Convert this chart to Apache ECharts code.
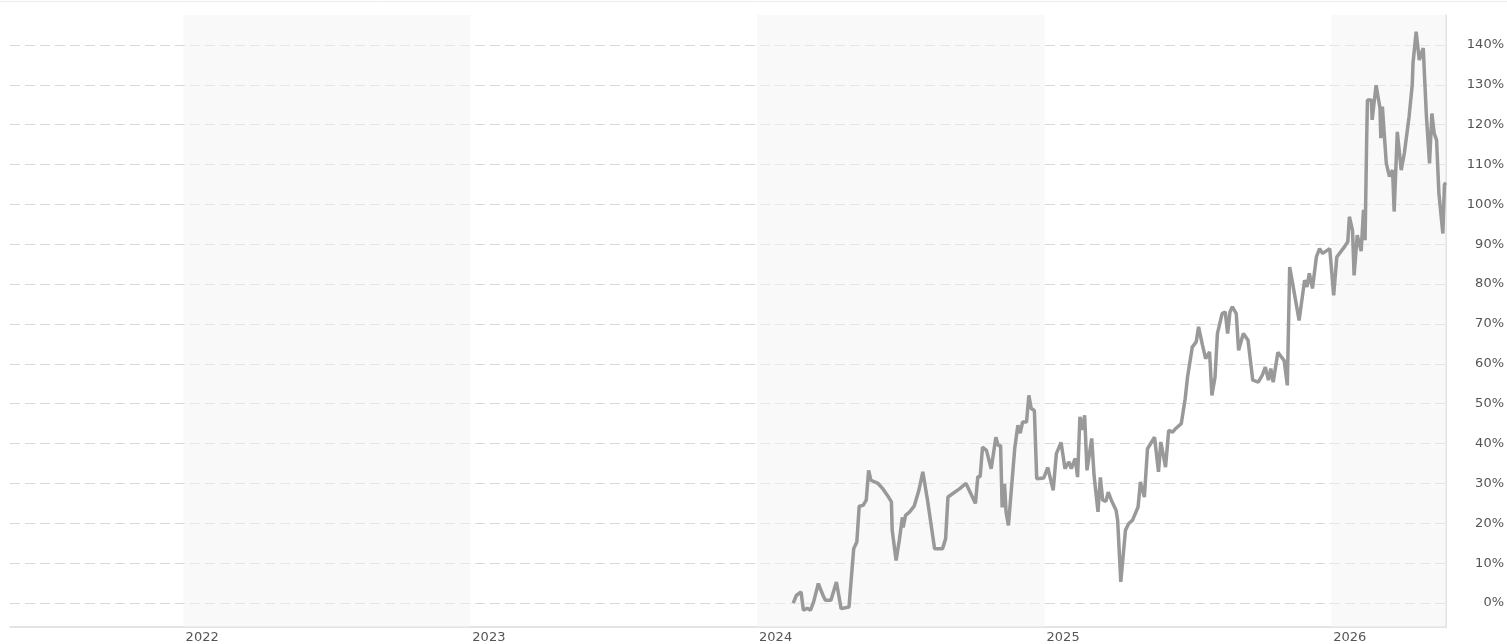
<!DOCTYPE html>
<html>
<head>
<meta charset="utf-8">
<script src="https://cdn.jsdelivr.net/npm/echarts@6/dist/echarts.min.js"></script>
<style>
  html, body { margin: 0; padding: 0; background: #fff; }
  #chart { width: 1507px; height: 644px; }
</style>
</head>
<body>
<div id="chart"></div>
<script>
// performance line, % change since first point
const dates = [
  '2024-02-16', '2024-02-20', '2024-02-26', '2024-02-29', '2024-03-05', '2024-03-09', '2024-03-13', '2024-03-15',
  '2024-03-19', '2024-03-25', '2024-03-28', '2024-04-04', '2024-04-11', '2024-04-17', '2024-04-27', '2024-05-03',
  '2024-05-07', '2024-05-10', '2024-05-15', '2024-05-19', '2024-05-22', '2024-05-25', '2024-06-03', '2024-06-09',
  '2024-06-15', '2024-06-20', '2024-06-21', '2024-06-26', '2024-06-30', '2024-07-04', '2024-07-05', '2024-07-08',
  '2024-07-13', '2024-07-19', '2024-07-25', '2024-07-30', '2024-08-05', '2024-08-14', '2024-08-24', '2024-08-28',
  '2024-08-31', '2024-09-15', '2024-09-23', '2024-10-05', '2024-10-08', '2024-10-11', '2024-10-14', '2024-10-19',
  '2024-10-25', '2024-10-31', '2024-11-03', '2024-11-06', '2024-11-08', '2024-11-11', '2024-11-13', '2024-11-16',
  '2024-11-24', '2024-11-28', '2024-12-01', '2024-12-04', '2024-12-09', '2024-12-12', '2024-12-15', '2024-12-19',
  '2024-12-22', '2024-12-31', '2025-01-05', '2025-01-12', '2025-01-16', '2025-01-22', '2025-01-27', '2025-02-01',
  '2025-02-04', '2025-02-09', '2025-02-12', '2025-02-15', '2025-02-18', '2025-02-21', '2025-02-24', '2025-03-02',
  '2025-03-05', '2025-03-10', '2025-03-13', '2025-03-16', '2025-03-20', '2025-03-23', '2025-03-27', '2025-04-02',
  '2025-04-04', '2025-04-08', '2025-04-14', '2025-04-18', '2025-04-23', '2025-04-30', '2025-05-03', '2025-05-08',
  '2025-05-12', '2025-05-21', '2025-05-26', '2025-05-29', '2025-06-04', '2025-06-08', '2025-06-13', '2025-06-17',
  '2025-06-24', '2025-06-29', '2025-07-02', '2025-07-08', '2025-07-13', '2025-07-16', '2025-07-21', '2025-07-25',
  '2025-07-30', '2025-08-02', '2025-08-06', '2025-08-09', '2025-08-15', '2025-08-19', '2025-08-22', '2025-08-25',
  '2025-08-28', '2025-09-02', '2025-09-05', '2025-09-11', '2025-09-17', '2025-09-23', '2025-09-30', '2025-10-05',
  '2025-10-09', '2025-10-13', '2025-10-16', '2025-10-19', '2025-10-25', '2025-11-02', '2025-11-06', '2025-11-09',
  '2025-11-12', '2025-11-21', '2025-11-28', '2025-12-01', '2025-12-04', '2025-12-08', '2025-12-13', '2025-12-17',
  '2025-12-21', '2025-12-30', '2026-01-04', '2026-01-08', '2026-01-16', '2026-01-22', '2026-01-24', '2026-01-28',
  '2026-01-30', '2026-02-03', '2026-02-08', '2026-02-11', '2026-02-13', '2026-02-15', '2026-02-16', '2026-02-21',
  '2026-02-22', '2026-02-27', '2026-03-04', '2026-03-05', '2026-03-07', '2026-03-12', '2026-03-16', '2026-03-20',
  '2026-03-22', '2026-03-26', '2026-03-31', '2026-04-04', '2026-04-10', '2026-04-14', '2026-04-15', '2026-04-19',
  '2026-04-23', '2026-04-28', '2026-05-02', '2026-05-06', '2026-05-09', '2026-05-12', '2026-05-15', '2026-05-18',
  '2026-05-23', '2026-05-25', '2026-05-27'
];
const values = [
  0, 1.9, 2.8, -1.8, -1.3, -1.8, 0.3, 0,
  4.9, 1.9, 0.7, 0.7, 5.3, -1.4, -1.0, 13.6,
  15.3, 24.3, 24.5, 25.8, 33.3, 30.8, 30.0, 28.7,
  27.0, 25.4, 18.3, 10.7, 15.7, 21.5, 19.0, 22.0,
  22.8, 24.3, 28.3, 32.9, 25.8, 13.6, 13.6, 16.1,
  26.6, 28.7, 30.0, 25.0, 31.7, 31.7, 39.1, 38.3,
  33.7, 41.6, 39.5, 39.5, 24.0, 29.9, 22.8, 19.5,
  38.8, 44.6, 42.6, 45.4, 45.4, 52.1, 48.8, 48.3,
  31.2, 31.4, 34.0, 28.3, 37.5, 40.3, 33.7, 35.4,
  33.7, 36.3, 31.6, 46.7, 43.4, 47.1, 33.3, 41.3,
  32.0, 22.9, 31.5, 25.8, 25.5, 27.8, 25.8, 23.3,
  20.8, 5.3, 18.3, 19.9, 20.8, 24.1, 30.4, 26.6,
  38.7, 41.6, 32.9, 40.4, 34.1, 43.3, 42.9, 43.8,
  45.0, 51.3, 56.7, 64.2, 65.5, 69.3, 64.7, 61.3,
  63.0, 52.1, 56.7, 67.6, 72.6, 73.0, 67.6, 73.0,
  74.3, 72.6, 63.4, 67.6, 65.9, 55.9, 55.4, 57.1,
  59.2, 55.9, 58.8, 55.4, 62.9, 60.8, 54.6, 84.3,
  81.0, 70.9, 81.0, 79.3, 82.7, 78.9, 86.8, 88.9,
  87.7, 88.9, 77.2, 86.8, 88.9, 90.6, 96.9, 93.5,
  82.2, 92.3, 88.3, 98.6, 91.0, 116.1, 126.2, 126.2,
  121.2, 129.9, 124.1, 116.6, 124.5, 110.3, 107.0, 108.6,
  98.2, 118.2, 108.6, 112.9, 122.0, 129.9, 135.4, 143.3,
  136.2, 139.2, 122.4, 110.3, 122.8, 117.8, 116.1, 102.7,
  92.7, 105.0, 105.4
];
const yTicks = [0, 10, 20, 30, 40, 50, 60, 70, 80, 90, 100, 110, 120, 130, 140];
const shadedBands = [['2022-01-01', '2023-01-01'], ['2024-01-01', '2025-01-01'], ['2026-01-01', '2026-05-27']];
const xStart = '2021-05-25';
const xEnd = '2026-05-27';

const chart = echarts.init(document.getElementById('chart'));

const textStyle = { fontFamily: 'DejaVu Sans', fontSize: 13, color: '#555' };

chart.setOption({
  animation: false,
  grid: { left: 10, right: 60, top: 15, bottom: 17 },
  graphic: [{
    type: 'line',
    shape: { x1: 0, y1: 1.5, x2: 1507, y2: 1.5 },
    style: { stroke: '#ececec', lineWidth: 1 },
    silent: true
  }],
  xAxis: {
    type: 'time',
    min: xStart,
    max: xEnd,
    axisLine: { show: true, onZero: false, lineStyle: { color: '#dcdcdc', width: 1.5 } },
    axisTick: { show: false },
    splitLine: { show: false },
    axisLabel: Object.assign({
      showMinLabel: false,
      showMaxLabel: false,
      align: 'left',
      margin: 4,
      padding: [0, 0, 0, 2],
      formatter: '{yyyy}'
    }, textStyle)
  },
  yAxis: {
    type: 'value',
    position: 'right',
    min: -6,
    max: 147.5,
    axisLine: { show: true, lineStyle: { color: '#dcdcdc', width: 1.5 } },
    axisTick: { show: false, customValues: yTicks },
    splitLine: { show: true, lineStyle: { color: '#d9d9d9', type: [10, 5], width: 1 } },
    axisLabel: Object.assign({
      customValues: yTicks,
      align: 'right',
      margin: 58,
      formatter: v => v + '%'
    }, textStyle)
  },
  series: [{
    type: 'line',
    data: dates.map((d, i) => [d, values[i]]),
    showSymbol: false,
    symbol: 'none',
    lineStyle: { color: '#999', width: 3.5 },
    markArea: {
      silent: true,
      itemStyle: { color: 'rgba(243,243,243,0.5)' },
      data: shadedBands.map(b => [{ xAxis: b[0] }, { xAxis: b[1] }])
    }
  }]
});
</script>
</body>
</html>
